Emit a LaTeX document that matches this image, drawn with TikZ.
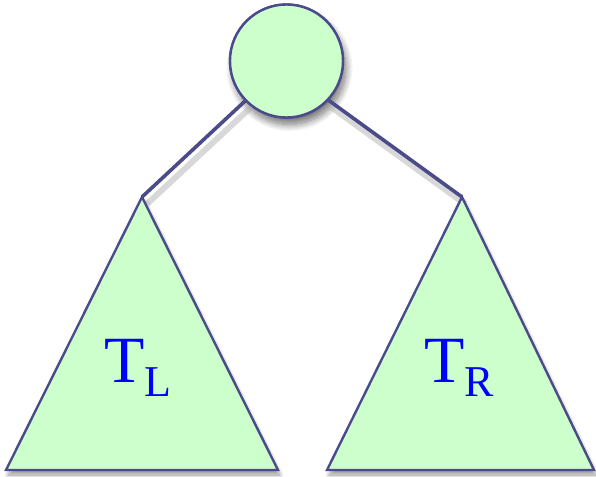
\documentclass[tikz,border=0pt]{standalone}
\usepackage{fontspec}
\setmainfont{Liberation Serif}
\usetikzlibrary{shadows.blur}
\definecolor{nodefill}{HTML}{CCFFCC}
\definecolor{edgecol}{HTML}{4B4B8C}
\definecolor{labelcol}{HTML}{0000FF}
\tikzset{
  treeshape/.style={fill=nodefill, draw=edgecol, line width=2.4pt, line join=miter,
    blur shadow={shadow xshift=2pt, shadow yshift=-5pt, shadow blur radius=4pt, shadow blur steps=10, shadow opacity=40}},
  rootshadowed/.style={circle, minimum size=113pt, inner sep=0pt, fill=nodefill, draw=edgecol, line width=2.4pt,
    blur shadow={shadow xshift=3pt, shadow yshift=-7pt, shadow blur radius=7pt, shadow blur steps=12, shadow opacity=55}},
  rootnode/.style={circle, minimum size=113pt, inner sep=0pt, fill=nodefill, draw=edgecol, line width=2.4pt},
  branch/.style={draw=edgecol, line width=3.6pt},
  branchshadow/.style={draw=black!30, line width=6pt},
  sublabel/.style={text=labelcol, font=\fontsize{66}{66}\selectfont, inner sep=0pt, anchor=base west}
}
\begin{document}
\begin{tikzpicture}[x=1pt,y=-1pt]
\useasboundingbox (0,0) rectangle (596,476);
\coordinate (la) at (142,197);
\coordinate (ra) at (462,197);
\node[rootshadowed] (root) at (286.5,61) {};
\path[branchshadow, opacity=0.5] ([xshift=5pt,yshift=-7pt]root.-136.6) -- ([xshift=5pt,yshift=-7pt]la);
\path[branchshadow, opacity=0.5] ([xshift=3pt,yshift=-7pt]root.-43.4) -- ([xshift=3pt,yshift=-7pt]ra);
\draw[branch] (root.-136.6) -- (la);
\draw[branch] (root.-43.4) -- (ra);
\path[treeshape] (la) -- (278,470) -- (6,470) -- cycle;
\path[treeshape] (ra) -- (594,470) -- (327,470) -- cycle;
\node[rootnode] (root2) at (root) {};
\node[sublabel] (tl) at (104,382) {T\raisebox{-14pt}{\fontsize{44}{44}\selectfont L}};
\node[sublabel] (tr) at (424,382) {T\raisebox{-14pt}{\fontsize{44}{44}\selectfont R}};
\end{tikzpicture}
\end{document}
